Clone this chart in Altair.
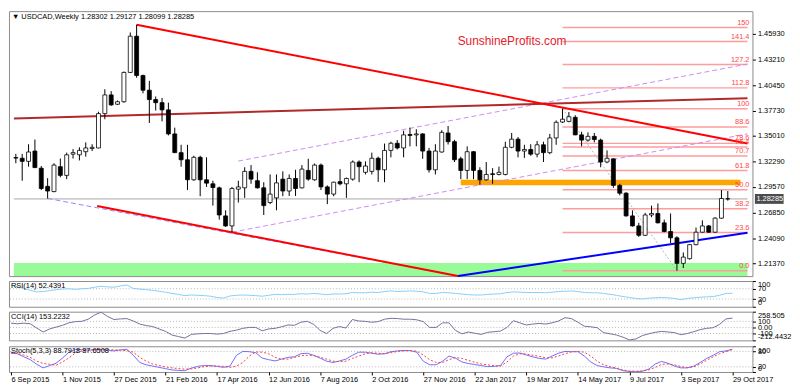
import json
import altair as alt
import pandas as pd

# ---------------- data ----------------
opens = [1.3270, 1.3263, 1.3230, 1.3340, 1.3157, 1.2963, 1.2907, 1.3173, 1.3080, 1.3307,
         1.3300, 1.3333, 1.3367, 1.3373, 1.3740, 1.3940, 1.3840, 1.3867, 1.4180, 1.4567,
         1.4147, 1.3990, 1.3890, 1.3857, 1.3780, 1.3523, 1.3323, 1.3247, 1.3033, 1.3273,
         1.3033, 1.2990, 1.2947, 1.2647, 1.2540, 1.2933, 1.2947, 1.3123, 1.3023, 1.2947,
         1.2790, 1.2840, 1.3040, 1.2913, 1.3047, 1.2947, 1.3133, 1.3033, 1.3190, 1.2957,
         1.2880, 1.3013, 1.2990, 1.3040, 1.3223, 1.3113, 1.3123, 1.3263, 1.3140, 1.3347,
         1.3423, 1.3373, 1.3517, 1.3513, 1.3523, 1.3340, 1.3140, 1.3330, 1.3533, 1.3440,
         1.3257, 1.3133, 1.3333, 1.3133, 1.3033, 1.3097, 1.3090, 1.3090, 1.3380, 1.3467,
         1.3340, 1.3357, 1.3307, 1.3407, 1.3323, 1.3480, 1.3650, 1.3657, 1.3700, 1.3513,
         1.3457, 1.3497, 1.3457, 1.3223, 1.3257, 1.2973, 1.2890, 1.2647, 1.2540, 1.2440,
         1.2657, 1.2673, 1.2573, 1.2480, 1.2413, 1.2140, 1.2190, 1.2340, 1.2473, 1.2540,
         1.2473, 1.2623, 1.28302]
highs = [1.3310, 1.3310, 1.3413, 1.3463, 1.3180, 1.3050, 1.3210, 1.3260, 1.3323, 1.3360,
         1.3380, 1.3433, 1.3413, 1.3760, 1.4000, 1.3980, 1.3880, 1.4190, 1.4607, 1.4690,
         1.4157, 1.4090, 1.3923, 1.3907, 1.3857, 1.3590, 1.3407, 1.3407, 1.3290, 1.3290,
         1.3273, 1.3023, 1.2960, 1.2707, 1.2957, 1.3023, 1.3167, 1.3190, 1.3113, 1.3007,
         1.3090, 1.3090, 1.3123, 1.3090, 1.3140, 1.3190, 1.3257, 1.3207, 1.3207, 1.2973,
         1.3013, 1.3147, 1.3057, 1.3240, 1.3240, 1.3230, 1.3323, 1.3280, 1.3420, 1.3440,
         1.3457, 1.3557, 1.3590, 1.3573, 1.3530, 1.3373, 1.3413, 1.3563, 1.3607, 1.3460,
         1.3280, 1.3390, 1.3340, 1.3167, 1.3223, 1.3157, 1.3173, 1.3440, 1.3533, 1.3490,
         1.3407, 1.3413, 1.3447, 1.3440, 1.3523, 1.3667, 1.3793, 1.3757, 1.3723, 1.3547,
         1.3540, 1.3533, 1.3473, 1.3347, 1.3260, 1.2990, 1.2900, 1.2707, 1.2573, 1.2680,
         1.2757, 1.2780, 1.2607, 1.2673, 1.2430, 1.2257, 1.2347, 1.2523, 1.2600, 1.2550,
         1.2633, 1.2923, 1.29127]
lows = [1.3210, 1.3023, 1.3173, 1.3160, 1.2923, 1.2833, 1.2900, 1.3060, 1.3040, 1.3260,
        1.3240, 1.3280, 1.3340, 1.3370, 1.3680, 1.3823, 1.3833, 1.3857, 1.4173, 1.4123,
        1.3957, 1.3640, 1.3773, 1.3657, 1.3507, 1.3320, 1.3173, 1.2923, 1.3023, 1.2857,
        1.2957, 1.2757, 1.2607, 1.2530, 1.2473, 1.2790, 1.2840, 1.2990, 1.2940, 1.2657,
        1.2773, 1.2707, 1.2857, 1.2860, 1.2860, 1.2940, 1.3023, 1.3023, 1.2923, 1.2773,
        1.2857, 1.2973, 1.2840, 1.3023, 1.3007, 1.3090, 1.3090, 1.3010, 1.3007, 1.3273,
        1.3357, 1.3273, 1.3390, 1.3390, 1.3257, 1.3110, 1.3090, 1.3323, 1.3410, 1.3223,
        1.3040, 1.3040, 1.3040, 1.2980, 1.3025, 1.2990, 1.3080, 1.3080, 1.3370, 1.3273,
        1.3267, 1.3290, 1.3273, 1.3223, 1.3307, 1.3407, 1.3640, 1.3647, 1.3510, 1.3390,
        1.3440, 1.3433, 1.3167, 1.3210, 1.2947, 1.2867, 1.2640, 1.2533, 1.2423, 1.2433,
        1.2633, 1.2567, 1.2473, 1.2357, 1.2061, 1.2090, 1.2180, 1.2333, 1.2467, 1.2467,
        1.2467, 1.2617, 1.28099]
closes = [1.3265, 1.3230, 1.3330, 1.3163, 1.2940, 1.2913, 1.3190, 1.3080, 1.3300, 1.3323,
          1.3347, 1.3373, 1.3380, 1.3740, 1.3940, 1.3833, 1.3867, 1.4180, 1.4567, 1.4147,
          1.3990, 1.3890, 1.3857, 1.3780, 1.3523, 1.3323, 1.3247, 1.3033, 1.3273, 1.3033,
          1.2997, 1.2950, 1.2657, 1.2540, 1.2940, 1.2957, 1.3123, 1.3040, 1.2947, 1.2757,
          1.2880, 1.3000, 1.2913, 1.3047, 1.2940, 1.3147, 1.3040, 1.3190, 1.2957, 1.2880,
          1.3007, 1.2990, 1.3047, 1.3223, 1.3173, 1.3180, 1.3263, 1.3140, 1.3347, 1.3423,
          1.3373, 1.3513, 1.3507, 1.3523, 1.3340, 1.3140, 1.3340, 1.3540, 1.3440, 1.3247,
          1.3133, 1.3333, 1.3133, 1.3033, 1.3090, 1.3090, 1.3113, 1.3380, 1.3467, 1.3340,
          1.3357, 1.3307, 1.3407, 1.3323, 1.3480, 1.3647, 1.3680, 1.3707, 1.3513, 1.3457,
          1.3497, 1.3463, 1.3223, 1.3263, 1.2973, 1.2890, 1.2647, 1.2540, 1.2440, 1.2657,
          1.2673, 1.2573, 1.2480, 1.2413, 1.2140, 1.2207, 1.2340, 1.2473, 1.2540, 1.2473,
          1.2623, 1.2833, 1.28285]

rsi = [84.5, 78.4, 71.2, 63.9, 57.8, 59.0, 62.7, 66.3, 68.7, 70.0,
       67.5, 70.0, 71.2, 76.0, 79.7, 77.2, 76.0, 80.9, 84.5, 71.2,
       68.7, 66.3, 63.9, 60.3, 56.6, 51.8, 48.1, 43.3, 45.7, 44.5,
       43.3, 40.9, 36.0, 33.6, 42.0, 44.5, 45.7, 44.5, 43.3, 40.9,
       44.5, 48.1, 46.9, 48.1, 48.1, 50.6, 49.4, 51.8, 49.4, 46.9,
       49.4, 49.4, 50.6, 55.4, 54.2, 54.2, 56.6, 55.4, 59.1, 61.5,
       59.1, 60.3, 61.5, 60.3, 57.8, 51.8, 51.8, 55.4, 54.2, 51.8,
       49.4, 46.9, 45.7, 45.7, 48.1, 49.4, 50.6, 55.4, 57.8, 56.6,
       55.4, 55.4, 55.4, 54.2, 56.6, 59.1, 60.3, 61.5, 59.1, 55.4,
       54.2, 54.2, 51.8, 48.1, 44.5, 39.7, 36.0, 32.4, 30.0, 33.6,
       34.8, 36.0, 34.8, 32.4, 27.5, 32.4, 34.8, 37.2, 38.4, 39.7,
       44.5, 51.8, 52.4391]
cci = [70, 60, 70, 60, -10, -75, -25, 5, 35, 75,
       95, 100, 135, 205, 250, 180, 130, 140, 145, 105,
       55, 30, 15, -25, -65, -125, -150, -175, -115, -105,
       -100, -100, -110, -100, -65, -45, -15, 0, 0, -55,
       -25, -15, 10, 40, 35, 85, 100, 50, -50, -100,
       -15, 15, -10, 130, 105, 100, 85, 95, 135, 150,
       145, 135, 135, 125, 95, 0, 0, 75, 75, -50,
       -105, -75, -95, -115, -80, -70, -60, 0, 110, 75,
       40, 55, 65, 55, 75, 105, 160, 145, 85, 20,
       10, -5, -85, -105, -125, -160, -205, -190, -135, -105,
       -80, -65, -75, -85, -120, -100, -70, -35, -15, -5,
       50, 140, 153.2232]
stoch_k = [73, 71, 59, 48, 30, 16, 25, 34, 54, 77,
           88, 87, 85, 86, 87, 85, 82, 86, 88, 65,
           37, 28, 23, 18, 13, 8, 6, 5, 15, 22,
           25, 25, 22, 18, 23, 65, 80, 79, 75, 54,
           48, 43, 50, 57, 59, 71, 73, 65, 54, 42,
           37, 43, 50, 65, 77, 77, 73, 69, 71, 79,
           82, 84, 83, 77, 42, 28, 28, 42, 62, 54,
           39, 33, 29, 25, 21, 22, 25, 59, 73, 74,
           66, 59, 53, 50, 62, 73, 80, 79, 79, 62,
           39, 25, 20, 16, 14, 5, 2, 1, 3, 11,
           31, 41, 34, 23, 16, 16, 23, 37, 53, 65,
           79, 82, 88.7918]
stoch_d = [75, 72, 66, 57, 42, 33, 30, 26, 39, 55,
           74, 82, 86, 87, 87, 87, 86, 85, 83, 77,
           57, 42, 31, 25, 20, 16, 13, 11, 12, 16,
           21, 23, 23, 22, 18, 23, 37, 62, 78, 77,
           71, 57, 50, 50, 57, 63, 65, 64, 57, 50,
           42, 40, 42, 53, 62, 71, 75, 73, 71, 75,
           80, 82, 83, 81, 66, 48, 37, 37, 48, 56,
           53, 45, 38, 31, 28, 24, 23, 39, 62, 71,
           70, 65, 61, 55, 55, 62, 71, 78, 80, 77,
           62, 42, 28, 21, 15, 8, 4, 3, 4, 8,
           18, 30, 31, 28, 21, 17, 20, 31, 46, 59,
           71, 79, 87.6508]

date_labels = ["6 Sep 2015", "1 Nov 2015", "27 Dec 2015", "21 Feb 2016", "17 Apr 2016",
               "12 Jun 2016", "7 Aug 2016", "2 Oct 2016", "27 Nov 2016", "22 Jan 2017",
               "19 Mar 2017", "14 May 2017", "9 Jul 2017", "3 Sep 2017", "29 Oct 2017"]
date_label_bars = [0, 8, 16, 24, 32, 40, 48, 56, 64, 72, 80, 88, 96, 104, 112]
price_ticks = [1.21370, 1.24090, 1.26850, 1.29570, 1.32290, 1.35010, 1.37730, 1.40450, 1.43210, 1.45930]

fib_names = ["0.0", "23.6", "38.2", "50.0", "61.8", "70.7", "76.4", "78.6", "88.6", "100", "112.8", "127.2", "141.4", "150"]
fib_prices = [1.2061, 1.2470, 1.2723, 1.2927, 1.3131, 1.3286, 1.3384, 1.3422, 1.3596, 1.3793, 1.4015, 1.4264, 1.4510, 1.4659]
fib_start_bar = 86

last_price = 1.28285
header_text = "\u25bc USDCAD,Weekly  1.28302 1.29127 1.28099 1.28285"
watermark = ["SunshineProfits.com", 69.5, 1.4516]

# trend lines: [bar1, price1, bar2, price2]
red_upper = [19, 1.4690, 115.1, 1.3420]
red_lower = [12.8, 1.2752, 69.55, 1.2004]
blue_dashed = [5, 1.2834, 69.55, 1.2004]
blue_solid = [69.55, 1.2004, 115.1, 1.2468]
brown_line = [-0.3, 1.3689, 115.1, 1.3905]
purple_upper = [35, 1.3233, 115.1, 1.4270]
purple_lower = [34, 1.2473, 115.1, 1.3524]
fib_diag = [86, 1.3793, 104, 1.2061]

orange_zone = [70, 114.0, 1.2975, 1.3033]
green_zone = [-0.3, 115.1, 1.2004, 1.2145]

rsi_levels = [30, 70]
cci_levels = [-100, 0, 100]
stoch_levels = [20, 80]
cci_domain = [-212.4432, 258.505]

# ---------------- layout ----------------
W = 752
H_MAIN, H_RSI, H_CCI, H_STO = 268, 26, 29, 26
X_DOM = [-0.3, 115.1]
Y_DOM = [1.2004, 1.4835]
FONT = "Liberation Sans"
FS = 7.5

xs = alt.Scale(domain=X_DOM, nice=False, zero=False)
ys = alt.Scale(domain=Y_DOM, nice=False, zero=False)

main_axis = alt.Axis(orient="right", values=price_ticks, format=".5f", labelFontSize=FS,
                     labelFont=FONT, tickSize=3, labelPadding=2, domain=False, grid=False,
                     labelColor="black", tickColor="black", title=None, labelOverlap=False)


def X(f):
    return alt.X(f, type="quantitative", scale=xs, axis=None, title=None)


def Y(f):
    return alt.Y(f, type="quantitative", scale=ys, axis=main_axis, title=None)


n = len(opens)
cdf = pd.DataFrame({"bar": list(range(n)), "open": opens, "high": highs, "low": lows, "close": closes})


def seg(pts, color, width, dash=None):
    d = pd.DataFrame([pts], columns=["x1", "y1", "x2", "y2"])
    kw = dict(color=color, strokeWidth=width)
    if dash:
        kw["strokeDash"] = dash
    return alt.Chart(d).mark_rule(**kw).encode(x=X("x1"), x2="x2", y=Y("y1"), y2="y2")


def zone(z, color):
    d = pd.DataFrame([z], columns=["x1", "x2", "y1", "y2"])
    return alt.Chart(d).mark_rect(color=color).encode(x=X("x1"), x2="x2", y=Y("y1"), y2="y2")


fdf = pd.DataFrame({"name": fib_names, "price": fib_prices})
fdf["start"] = fib_start_bar
fdf["end"] = X_DOM[1]

green = zone(green_zone, "#98fb98")
orange = zone(orange_zone, "#ffa500")
fib_lines = alt.Chart(fdf).mark_rule(color="#ff9c9c", strokeWidth=1.5).encode(
    x=X("start"), x2="end", y=Y("price"))
fib_text = alt.Chart(fdf).mark_text(align="right", baseline="bottom", dy=-1, color="#ff4848",
                                    fontSize=FS, font=FONT).encode(
    x=alt.value(W - 3), y=Y("price"), text="name:N")
pdf = pd.DataFrame({"price": [last_price], "lab": [f"{last_price:.5f}"], "x1": [X_DOM[0]], "x2": [X_DOM[1]]})
price_line = alt.Chart(pdf).mark_rule(color="#a8a8a8", strokeWidth=1).encode(x=X("x1"), x2="x2", y=Y("price"))
price_tag = alt.Chart(pdf).mark_tick(orient="horizontal", size=29, thickness=10, color="black").encode(
    x=alt.value(W + 17), y=Y("price"))
price_txt = alt.Chart(pdf).mark_text(align="left", color="white", fontSize=FS, font=FONT).encode(
    x=alt.value(W + 4), y=Y("price"), text="lab:N")

wicks = alt.Chart(cdf).mark_rule(color="black", strokeWidth=1).encode(x=X("bar"), y=Y("low"), y2="high")
bodies = alt.Chart(cdf).mark_bar(size=4, stroke="black", strokeWidth=0.8).encode(
    x=X("bar"), y=Y("open"), y2="close",
    fill=alt.condition("datum.close >= datum.open", alt.value("white"), alt.value("black")))

hdf = pd.DataFrame({"t": [header_text]})
header = alt.Chart(hdf).mark_text(align="left", baseline="middle", fontSize=FS, font=FONT,
                                  color="black").encode(x=alt.value(3), y=alt.value(6), text="t:N")
wdf = pd.DataFrame({"t": [watermark[0]], "x": [watermark[1]], "y": [watermark[2]]})
wm = alt.Chart(wdf).mark_text(align="left", baseline="middle", fontSize=12, font=FONT,
                              color="#e4212a").encode(x=X("x"), y=Y("y"), text="t:N")

main = alt.layer(
    green, orange, fib_lines, price_line,
    seg(fib_diag, "#b4b4b4", 1, [2, 2]),
    seg(purple_upper, "#cc8cf2", 1, [5, 3]),
    seg(purple_lower, "#cc8cf2", 1, [5, 3]),
    seg(brown_line, "#b02a2a", 2),
    seg(blue_dashed, "#8c8cff", 1, [5, 3]),
    seg(red_lower, "#ff0000", 2),
    seg(blue_solid, "#0000ff", 2),
    seg(red_upper, "#ff0000", 2),
    wicks, bodies, fib_text, price_tag, price_txt, header, wm
).properties(width=W, height=H_MAIN)

# ---------------- indicator panels ----------------
idf = pd.DataFrame({"bar": list(range(n)), "rsi": rsi, "cci": cci, "k": stoch_k, "d": stoch_d})
bottom_axis = alt.Axis(values=date_label_bars,
                       labelExpr=f"{json.dumps(date_labels)}[indexof({json.dumps(date_label_bars)}, datum.value)]",
                       labelAlign="left", labelFontSize=FS, labelFont=FONT, tickSize=3, domain=False,
                       grid=False, labelFlush=False, labelOverlap=False, title=None, labelPadding=1,
                       labelColor="black", tickColor="black")


def ind_axis(values, expr=None):
    kw = dict(orient="right", values=values, labelFontSize=FS, labelFont=FONT, tickSize=3,
              labelPadding=2, domain=False, grid=False, title=None, labelOverlap=False,
              labelFlush=True, labelColor="black", tickColor="black")
    if expr:
        kw["labelExpr"] = expr
    return alt.Axis(**kw)


def panel(field, domain, axis, levels, title, height, color, extra=None, xaxis=None):
    ysc = alt.Scale(domain=domain, nice=False, zero=False)
    xenc = alt.X("bar:Q", scale=xs, axis=xaxis, title=None)
    ldf = pd.DataFrame({"lv": levels})
    lv = alt.Chart(ldf).mark_rule(color="#b8b8b8", strokeDash=[1, 2], strokeWidth=1).encode(
        y=alt.Y("lv:Q", scale=ysc, axis=axis, title=None))
    line = alt.Chart(idf).mark_line(color=color, strokeWidth=1).encode(
        x=xenc, y=alt.Y(f"{field}:Q", scale=ysc, axis=axis, title=None))
    layers = [lv, line]
    if extra:
        layers.append(alt.Chart(idf).mark_line(color=extra[1], strokeWidth=1, strokeDash=[2, 2]).encode(
            x=xenc, y=alt.Y(f"{extra[0]}:Q", scale=ysc, axis=axis, title=None)))
    tdf = pd.DataFrame({"t": [title]})
    layers.append(alt.Chart(tdf).mark_text(align="left", baseline="middle", fontSize=FS, font=FONT,
                                           color="black").encode(x=alt.value(2), y=alt.value(5), text="t:N"))
    return alt.layer(*layers).properties(width=W, height=height)


rsi_panel = panel("rsi", [0, 100], ind_axis([0, 30, 70, 100]), rsi_levels,
                  "RSI(14) 52.4391", H_RSI, "#87cefa")
cci_panel = panel("cci", cci_domain,
                  ind_axis(cci_domain + [-100, 0, 100], "datum.value === 0 ? '0.00' : '' + datum.value"),
                  cci_levels, "CCI(14) 153.2232", H_CCI, "#72729e")
sto_panel = panel("k", [0, 100], ind_axis([0, 20, 80, 100]), stoch_levels,
                  "Stoch(5,3,3) 88.7918 87.6508", H_STO, "#6e6eff", extra=("d", "#ff3b3b"),
                  xaxis=bottom_axis)

chart = alt.vconcat(main, rsi_panel, cci_panel, sto_panel, spacing=2).properties(
    padding=0, background="white"
).configure_view(stroke="#8c8c8c", strokeWidth=1)

chart.save("out.html", embed_options={"renderer": "svg", "actions": False})
